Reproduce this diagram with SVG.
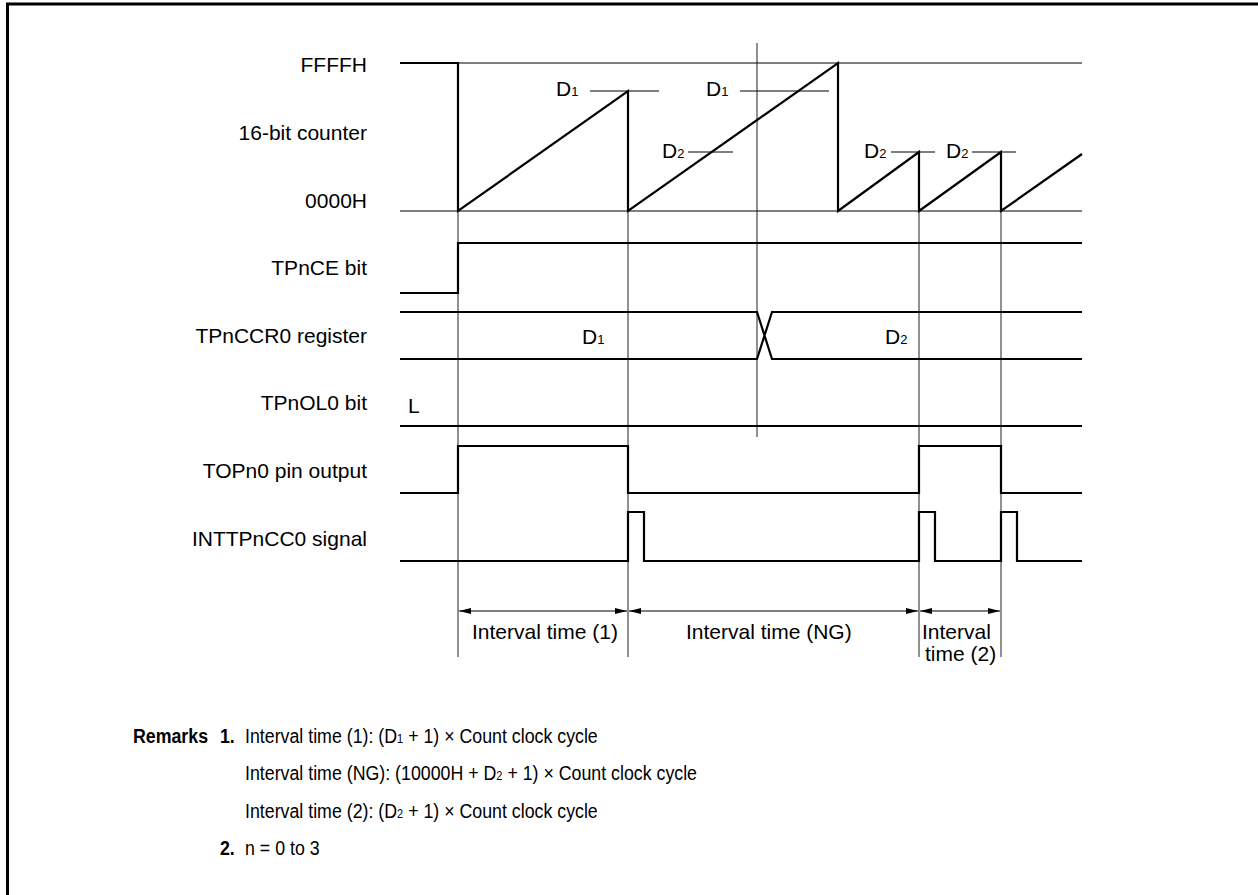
<svg xmlns="http://www.w3.org/2000/svg" width="1258" height="895" viewBox="0 0 1258 895">
<style>
text{font-family:"Liberation Sans",Arial,sans-serif;font-size:21px;fill:#000}
.lbl{text-anchor:end}
.sub{font-size:13px}
.b{font-weight:bold}
.thick{fill:none;stroke:#000;stroke-width:2.2;stroke-linejoin:miter}
.thin{fill:none;stroke:#000;stroke-width:1}
.grid{fill:none;stroke:#222;stroke-width:1}
.dim{fill:none;stroke:#000;stroke-width:1}
</style>
<defs>
<marker id="ah" markerUnits="userSpaceOnUse" markerWidth="14" markerHeight="8" refX="12" refY="4" orient="auto-start-reverse">
<path d="M0,1 L12,4 L0,7 Z" fill="#000"/>
</marker>
</defs>
<rect width="1258" height="895" fill="#fff"/>
<path d="M7.5,895 V4 H1258" fill="none" stroke="#000" stroke-width="3"/>

<g id="timing-grid">
<path class="grid" d="M458,211 V657 M628,211 V657 M919,211 V657 M1001,211 V657 M757,43 V437"/>
</g>

<g id="counter">
<text class="lbl" x="367" y="72">FFFFH</text>
<text class="lbl" x="367" y="140">16-bit counter</text>
<text class="lbl" x="367" y="208">0000H</text>
<path class="thin" d="M458,63 H1082 M400,211 H1082"/>
<path class="thin" d="M590,91 H659 M740,91 H829 M688,152 H733 M891,152 H935 M972,152 H1016"/>
<path class="thick" d="M400,63 H458 V211 L628,91 V211 L838,63 V211 L919,152 V211 L1001,152 V211 L1082,154"/>
<text x="556" y="96">D<tspan class="sub">1</tspan></text>
<text x="706" y="96">D<tspan class="sub">1</tspan></text>
<text x="662" y="158">D<tspan class="sub">2</tspan></text>
<text x="864" y="158">D<tspan class="sub">2</tspan></text>
<text x="946" y="158">D<tspan class="sub">2</tspan></text>
</g>

<g id="tpnce">
<text class="lbl" x="367" y="275">TPnCE bit</text>
<path class="thick" d="M400,293 H458 V243 H1082"/>
</g>

<g id="tpnccr0">
<text class="lbl" x="367" y="343">TPnCCR0 register</text>
<path class="thick" d="M400,312 H757 L772,359 H1082 M400,359 H757 L772,312 H1082"/>
<text x="582" y="344">D<tspan class="sub">1</tspan></text>
<text x="885" y="344">D<tspan class="sub">2</tspan></text>
</g>

<g id="tpnol0">
<text class="lbl" x="367" y="410">TPnOL0 bit</text>
<text x="408" y="413">L</text>
<path class="thick" d="M400,426 H1082"/>
</g>

<g id="topn0">
<text class="lbl" x="367" y="478">TOPn0 pin output</text>
<path class="thick" d="M400,493 H458 V446 H628 V493 H919 V446 H1001 V493 H1082"/>
</g>

<g id="inttpncc0">
<text class="lbl" x="367" y="546">INTTPnCC0 signal</text>
<path class="thick" d="M400,561 H628 V512 H644 V561 H919 V512 H935 V561 H1001 V512 H1017 V561 H1082"/>
</g>

<g id="connectors">
<path class="dim" d="M459,611 H627" marker-start="url(#ah)" marker-end="url(#ah)"/>
<path class="dim" d="M629,611 H918" marker-start="url(#ah)" marker-end="url(#ah)"/>
<path class="dim" d="M920,611 H1000" marker-start="url(#ah)" marker-end="url(#ah)"/>
</g>

<g id="interval-labels">
<text x="472" y="639">Interval time (1)</text>
<text x="686" y="639">Interval time (NG)</text>
<text x="922" y="639">Interval</text>
<text x="925" y="661">time (2)</text>
</g>

<g id="remarks" transform="scale(0.847,1)">
<text class="b" x="157" y="743">Remarks</text>
<text class="b" x="259.7" y="743">1.</text>
<text x="289.3" y="743">Interval time (1): (D<tspan class="sub">1</tspan> + 1) × Count clock cycle</text>
<text x="289.3" y="780">Interval time (NG): (10000H + D<tspan class="sub">2</tspan> + 1) × Count clock cycle</text>
<text x="289.3" y="818">Interval time (2): (D<tspan class="sub">2</tspan> + 1) × Count clock cycle</text>
<text class="b" x="259.7" y="855">2.</text>
<text x="289.3" y="855">n = 0 to 3</text>
</g>
</svg>
